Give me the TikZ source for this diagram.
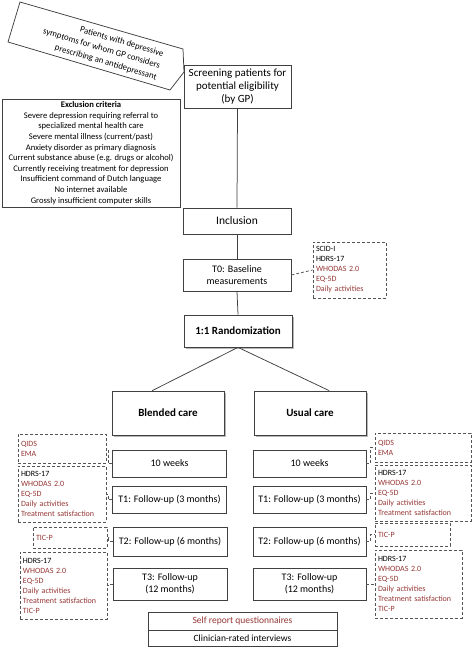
\documentclass[tikz,border=0pt]{standalone}
\usepackage{fontspec}
\setmainfont{Carlito}
\usetikzlibrary{shadows,calc}
\definecolor{selfc}{HTML}{953735}
\definecolor{boxc}{HTML}{404040}
\definecolor{dashc}{HTML}{555555}
\begin{document}
\begin{tikzpicture}[x=1pt,y=-1pt,
  box/.style={draw=boxc,line width=0.75pt,fill=white,align=center,inner sep=1pt,text=black},
  sbox/.style={box,drop shadow={shadow xshift=1.8pt,shadow yshift=-1.8pt,fill=black!40,opacity=0.7}},
  dbox/.style={draw=dashc,line width=0.75pt,dash pattern=on 3pt off 2pt,align=left,inner sep=3pt,font=\fontsize{8}{10}\selectfont},
  conn/.style={draw=boxc,line width=0.75pt},
  dconn/.style={draw=dashc,line width=0.75pt,dash pattern=on 3pt off 2pt},
  fmain/.style={font=\fontsize{10}{12}\selectfont},
  fbig/.style={font=\fontsize{11}{13}\selectfont\bfseries},
  colbox/.style={box,fmain,minimum width=114,minimum height=27}
]
\useasboundingbox (0,0) rectangle (472,649);
\fill[white] (0,0) rectangle (472,649);

% tilted patient shape
\draw[conn,fill=white] (20,2) -- (183,49) -- (184,72) -- (170,90) -- (8,42) -- cycle;
\node[rotate=-16.5,anchor=east,align=right,inner sep=0pt,font=\fontsize{8.8}{12.2}\selectfont] (pat) at (160,66)
  {Patients with depressive\\symptoms for whom GP considers\\prescribing an antidepressant};

\node[box,minimum width=107,minimum height=43,font=\fontsize{11}{12.8}\selectfont] (screen) at (237.5,86.5)
  {Screening patients for\\potential eligibility\\(by GP)};

\node[box,minimum width=178,minimum height=108,font=\fontsize{8.6}{10.6}\selectfont] (excl) at (91,153)
  {\textbf{Exclusion criteria}\\Severe depression requiring referral to\\specialized mental health care\\Severe mental illness (current/past)\\Anxiety disorder as primary diagnosis\\Current substance abuse (e.g. drugs or alcohol)\\Currently receiving treatment for depression\\Insufficient command of Dutch language\\No internet available\\Grossly insufficient computer skills};

\node[box,minimum width=108,minimum height=26,font=\fontsize{11.5}{13}\selectfont] (incl) at (237,221) {Inclusion};
\node[box,fmain,minimum width=108,minimum height=32] (t0) at (237,275) {T0: Baseline\\measurements};
\node[dbox,minimum width=73,minimum height=56,text width=67] (t0d) at (349.5,270)
  {SCID-I\\HDRS-17\\\textcolor{selfc}{WHODAS 2.0}\\\textcolor{selfc}{EQ-5D}\\\textcolor{selfc}{Daily activities}};

\node[sbox,fbig,minimum width=108,minimum height=32] (rand) at (238,331) {1:1 Randomization};
\node[sbox,fbig,minimum width=112,minimum height=44] (blend) at (168,413) {Blended care};
\node[sbox,fbig,minimum width=112,minimum height=44] (usual) at (310,413) {Usual care};

% left column
\node[colbox] (b10) at (169.5,463.5) {10 weeks};
\node[colbox] (bT1) at (169.5,499.5) {T1: Follow-up (3 months)};
\node[colbox,minimum height=29] (bT2) at (170,541.5) {T2: Follow-up (6 months)};
\node[colbox,minimum height=32] (bT3) at (170,584) {T3: Follow-up\\(12 months)};
% right column
\node[colbox,minimum width=113] (u10) at (309.5,463.5) {10 weeks};
\node[colbox,minimum width=113] (uT1) at (309.5,499.5) {T1: Follow-up (3 months)};
\node[colbox,minimum width=113,minimum height=29] (uT2) at (309.5,541.5) {T2: Follow-up (6 months)};
\node[colbox,minimum width=113,minimum height=32] (uT3) at (309.5,584) {T3: Follow-up\\(12 months)};

% left dashed boxes
\node[dbox,minimum width=88,minimum height=29,text width=82] (lq) at (62,448.5)
  {\textcolor{selfc}{QIDS}\\\textcolor{selfc}{EMA}};
\node[dbox,minimum width=88,minimum height=56,text width=82] (lh1) at (62,494)
  {HDRS-17\\\textcolor{selfc}{WHODAS 2.0}\\\textcolor{selfc}{EQ-5D}\\\textcolor{selfc}{Daily activities}\\\textcolor{selfc}{Treatment satisfaction}};
\node[dbox,minimum width=74,minimum height=21,text width=68] (ltic) at (70,537.5)
  {\textcolor{selfc}{TIC-P}};
\node[dbox,minimum width=87,minimum height=67,text width=81] (lh3) at (63.5,585.5)
  {HDRS-17\\\textcolor{selfc}{WHODAS 2.0}\\\textcolor{selfc}{EQ-5D}\\\textcolor{selfc}{Daily activities}\\\textcolor{selfc}{Treatment satisfaction}\\\textcolor{selfc}{TIC-P}};
% right dashed boxes
\node[dbox,minimum width=96,minimum height=29,text width=90] (rq) at (423,447.5)
  {\textcolor{selfc}{QIDS}\\\textcolor{selfc}{EMA}};
\node[dbox,minimum width=96,minimum height=56,text width=90] (rh1) at (423,493)
  {HDRS-17\\\textcolor{selfc}{WHODAS 2.0}\\\textcolor{selfc}{EQ-5D}\\\textcolor{selfc}{Daily activities}\\\textcolor{selfc}{Treatment satisfaction}};
\node[dbox,minimum width=75,minimum height=23,text width=69] (rtic) at (412.5,534.5)
  {\textcolor{selfc}{TIC-P}};
\node[dbox,minimum width=87,minimum height=68,text width=81] (rh3) at (418.5,584)
  {HDRS-17\\\textcolor{selfc}{WHODAS 2.0}\\\textcolor{selfc}{EQ-5D}\\\textcolor{selfc}{Daily activities}\\\textcolor{selfc}{Treatment satisfaction}\\\textcolor{selfc}{TIC-P}};

% legend
\node[box,minimum width=189,minimum height=18,text=selfc,font=\fontsize{9.5}{11}\selectfont] (leg1) at (242.5,621) {Self report questionnaires};
\node[box,minimum width=189,minimum height=16,font=\fontsize{9.5}{11}\selectfont] (leg2) at (242.5,638) {Clinician-rated interviews};

% connectors
\draw[conn] (screen.south) -- (incl.north);
\draw[conn] ($(excl.east)+(0,7)$) -- ($(excl.east)+(0,7)$ -| screen.south);
\draw[conn] (incl.south) -- (t0.north);
\draw[conn] (t0.south) -- (rand.north);
\draw[dconn] (t0.east) -- (t0d.west);
\draw[conn] (rand.south) -- ($(blend.north west)!0.36!(blend.north east)$);
\draw[conn] (rand.south) -- ($(usual.north west)!0.67!(usual.north east)$);

\draw[dconn] (b10.west) -- ++(-4,0) |- (lq.east);
\draw[dconn] (bT1.west) -- ++(-4,0) |- (lh1.east);
\draw[dconn] (bT2.west) -- ++(-4,0) |- (ltic.east);
\draw[dconn] (bT3.west) -- ++(-4,0) |- (lh3.east);
\draw[dconn] (u10.east) -- ++(4,0) |- (rq.west);
\draw[dconn] (uT1.east) -- ++(4,0) |- (rh1.west);
\draw[dconn] (uT2.east) -- ++(4,0) |- (rtic.west);
\draw[dconn] (uT3.east) -- ++(4,0) |- (rh3.west);
\end{tikzpicture}
\end{document}
